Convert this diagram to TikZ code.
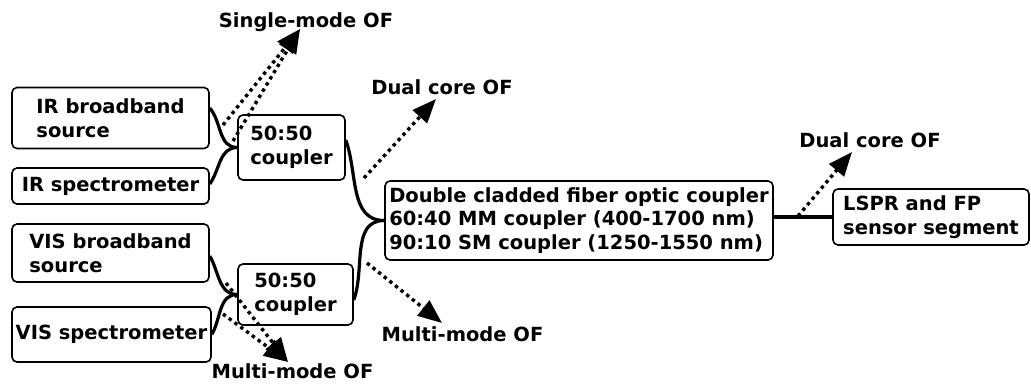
\documentclass[tikz,border=0pt]{standalone}
\usepackage{fontspec}
\setmainfont{DejaVu Sans}
\usetikzlibrary{arrows.meta}
\tikzset{
  >={Triangle[length=24pt,width=19pt]},
  box/.style={draw,rounded corners=5pt,line width=1.6pt,inner sep=0pt,align=left,
    font=\fontsize{19.5}{23.5}\selectfont\bfseries},
  fiber/.style={line width=3.2pt},
  trunk/.style={line width=4.5pt},
  tap/.style={->,line width=3.4pt,dash pattern=on 3.4pt off 3.8pt},
  tag/.style={inner sep=0pt,anchor=base,font=\fontsize{19.5}{23.5}\selectfont\bfseries},
}

\begin{document}
\begin{tikzpicture}[x=1pt,y=-1pt]
  \useasboundingbox (0,0) rectangle (1031,383);
  % light sources and spectrometers
  \node[box,minimum width=197pt,minimum height=61pt] (irsrc) at (110.5,118) {IR broadband\\source};
  \node[box,minimum width=197pt,minimum height=36pt] (irspec) at (110.5,186) {IR spectrometer};
  \node[box,minimum width=197pt,minimum height=58pt] (vissrc) at (110.5,253) {VIS broadband\\source};
  \node[box,minimum width=199pt,minimum height=55pt] (visspec) at (111.5,334.5) {VIS spectrometer};
  % couplers
  \node[box,minimum width=107pt,minimum height=65pt] (coupA) at (291.5,147.5) {50:50\\coupler};
  \node[box,minimum width=115pt,minimum height=61pt] (coupB) at (295.5,294.5) {50:50\\coupler};
  \node[box,minimum width=388pt,minimum height=79pt] (dcc) at (579,220.5)
    {Double cladded fiber optic coupler\\60:40 MM coupler (400-1700 nm)\\90:10 SM coupler (1250-1550 nm)};
  \node[box,minimum width=196pt,minimum height=56pt] (lspr) at (931,217) {LSPR and FP\\sensor segment};
  % fiber labels
  \node[tag] (smlbl) at (306,27) {Single-mode OF};
  \node[tag] (dclbl) at (442,94) {Dual core OF};
  \node[tag] (mmlbl) at (462.5,341) {Multi-mode OF};
  \node[tag] (dcrlbl) at (870,147) {Dual core OF};
  \node[tag] (mmblbl) at (292.5,378) {Multi-mode OF};
  % fibers
  \draw[fiber] ([yshift=10pt]irsrc.east) to[out=-50,in=180] (coupA.west);
  \draw[fiber] ([yshift=2pt]irspec.east) to[out=55,in=180] (coupA.west);
  \draw[fiber] ([yshift=-3pt]vissrc.east) to[out=-60,in=180] (coupB.west);
  \draw[fiber] (visspec.east) to[out=60,in=180] (coupB.west);
  \draw[fiber] ([yshift=7.5pt]coupA.east) to[out=-70,in=180] (dcc.west);
  \draw[fiber] ([yshift=-5.5pt]coupB.east) to[out=70,in=180] (dcc.west);
  \draw[trunk] ([yshift=3.5pt]dcc.east) -- (lspr.west);
  % tapped ends
  \coordinate (smA) at (223,125);
  \coordinate (smB) at (233,141);
  \coordinate (smtip) at (300,29);
  \coordinate (dcA) at (364,178);
  \coordinate (dctip) at (436,99);
  \coordinate (mmA) at (367,263);
  \coordinate (mmtip) at (442,323);
  \coordinate (dcrA) at (798,216);
  \coordinate (dcrtip) at (852,152);
  \coordinate (mmbA) at (226,283);
  \coordinate (mmbB) at (223,314);
  \coordinate (mmbtip) at (288,362);
  \draw[tap] (smA) -- (smtip);
  \draw[tap] (smB) -- (smtip);
  \draw[tap] (dcA) -- (dctip);
  \draw[tap] (mmA) -- (mmtip);
  \draw[tap] (dcrA) -- (dcrtip);
  \draw[tap] (mmbA) -- (mmbtip);
  \draw[tap] (mmbB) -- (mmbtip);
\end{tikzpicture}
\end{document}
